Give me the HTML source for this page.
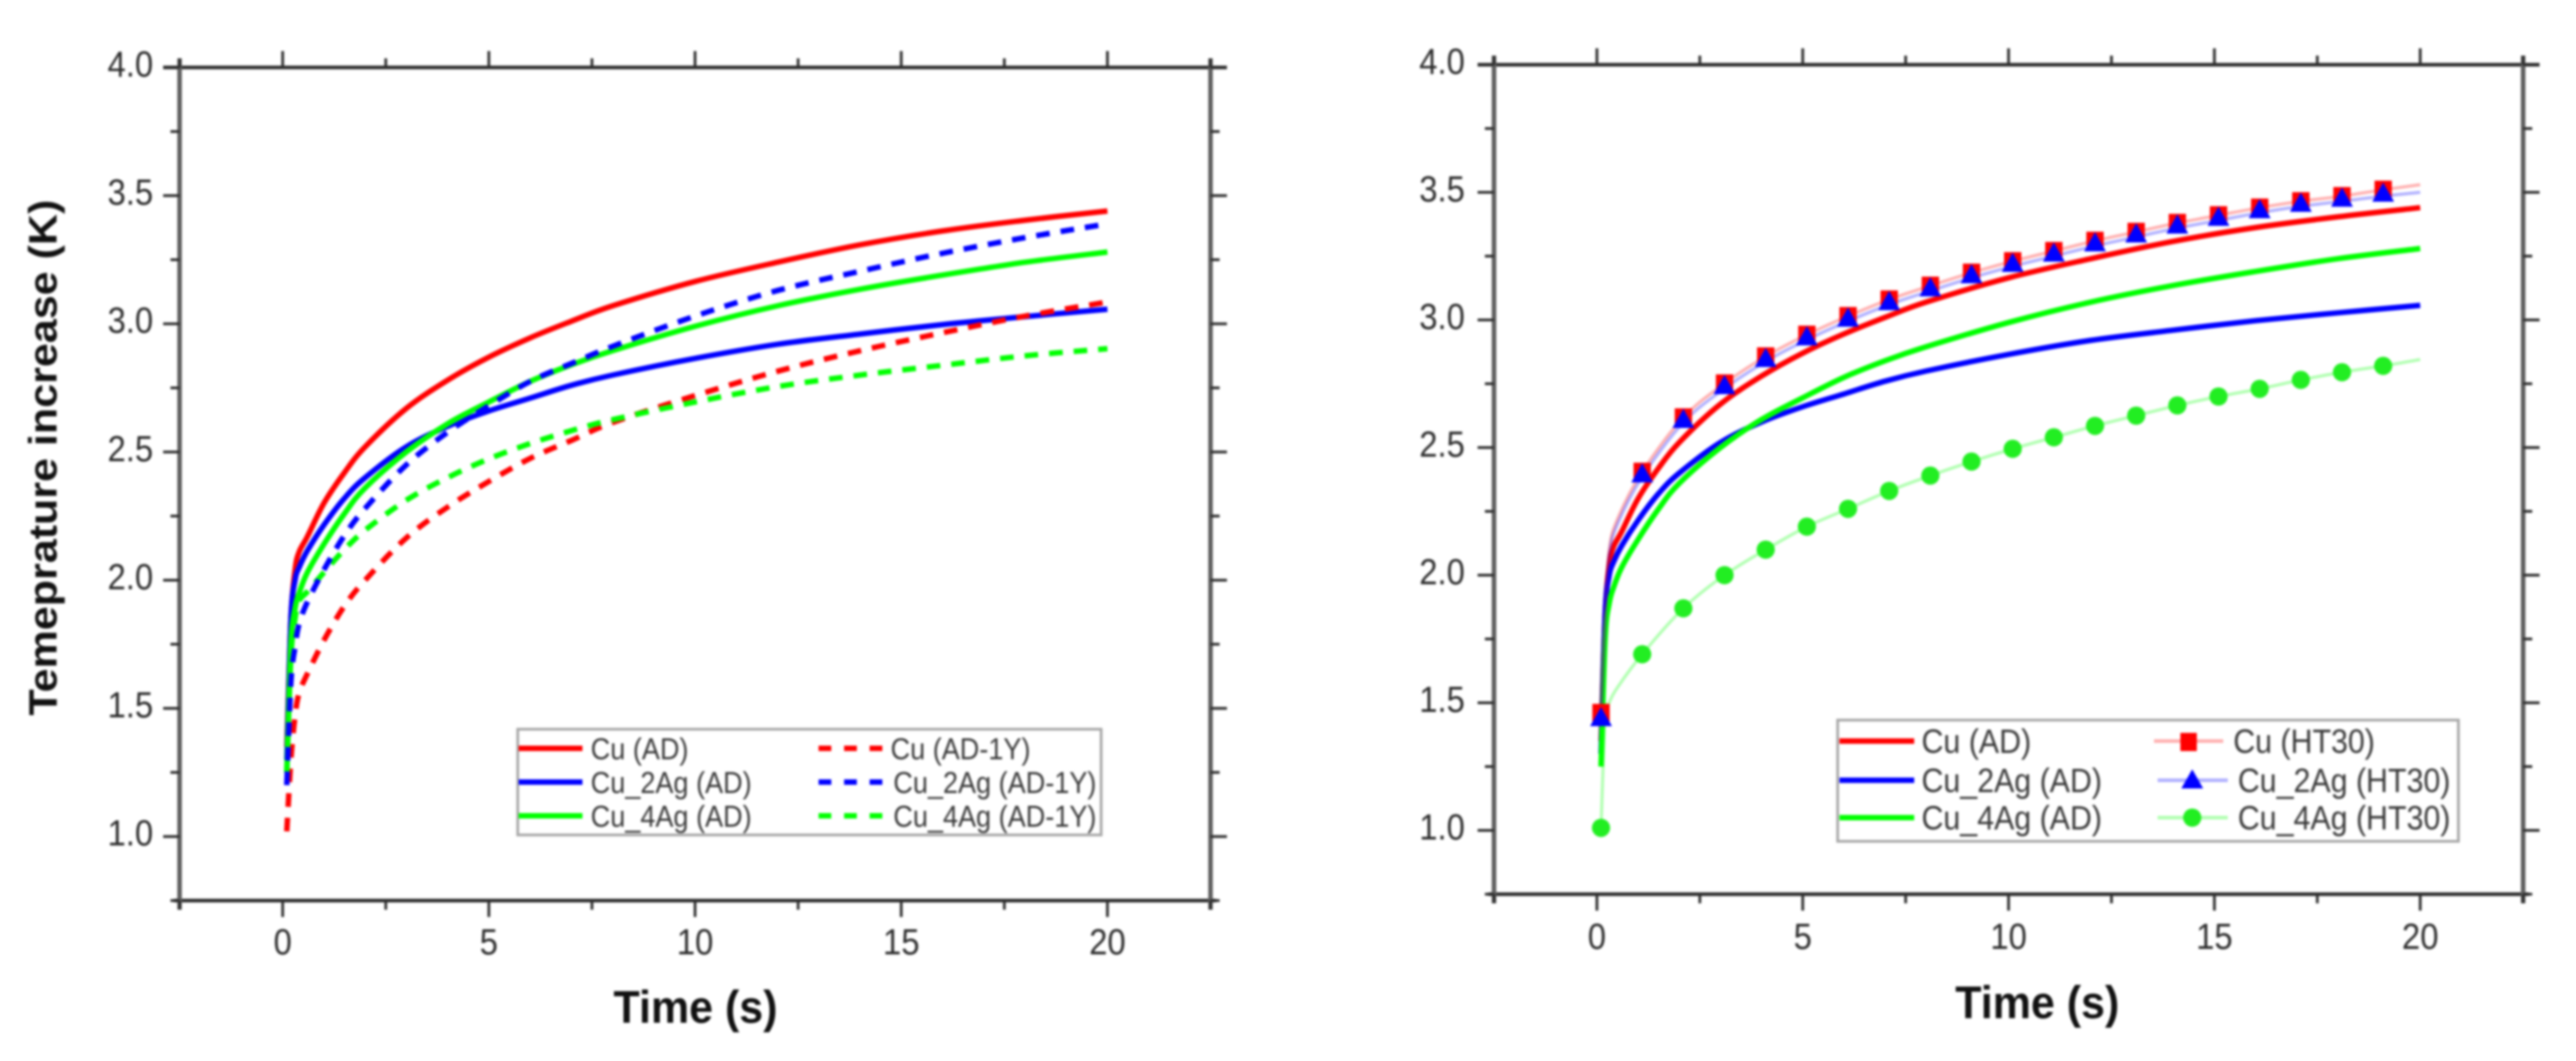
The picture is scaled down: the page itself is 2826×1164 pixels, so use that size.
<!DOCTYPE html>
<html lang="en">
<head>
<meta charset="utf-8">
<title>Temperature increase vs time</title>
<style>
  html, body { margin: 0; padding: 0; background: #fff; }
  body { width: 2826px; height: 1164px; overflow: hidden; }
  #figure { display: block; filter: blur(1.2px); }
  text { font-family: "Liberation Sans", sans-serif; }
  .tick-label { font-size: 40px; fill: #2c2c2c; }
  .axis-title { font-size: 50px; font-weight: bold; fill: #111; }
  .y-title { font-size: 44px; font-weight: bold; fill: #111; }
  .leg-l { font-size: 33px; fill: #3a3a3a; }
  .leg-r { font-size: 37px; fill: #3a3a3a; }
</style>
</head>
<body>
<svg id="figure" xmlns="http://www.w3.org/2000/svg" width="2826" height="1164" viewBox="0 0 2826 1164">
  <rect width="2826" height="1164" fill="#fff"/>

  <g id="panel-left">
    <g id="left-marks"></g>
    <g id="left-axes"></g>
    <text class="axis-title" x="763" y="1122" text-anchor="middle" textLength="180" lengthAdjust="spacingAndGlyphs">Time (s)</text>
    <text class="y-title" transform="translate(62,502) rotate(-90)" text-anchor="middle" textLength="566" lengthAdjust="spacingAndGlyphs">Temeprature increase (K)</text>
    <g>
      <rect x="568" y="800" width="640" height="116" fill="#fff" stroke="#a8a8a8" stroke-width="3"/>
      <g>
        <line x1="569" x2="639" y1="821" y2="821" stroke="#f00" stroke-width="6"/>
        <text class="leg-l" x="648" y="833">Cu (AD)</text>
      </g>
      <g>
        <line x1="569" x2="639" y1="858" y2="858" stroke="#00f" stroke-width="6"/>
        <text class="leg-l" x="648" y="870">Cu_2Ag (AD)</text>
      </g>
      <g>
        <line x1="569" x2="639" y1="895" y2="895" stroke="#0f0" stroke-width="6"/>
        <text class="leg-l" x="648" y="907">Cu_4Ag (AD)</text>
      </g>
      <g>
        <line x1="898" x2="970" y1="821" y2="821" stroke="#f00" stroke-width="6" stroke-dasharray="14 14"/>
        <text class="leg-l" x="977" y="833">Cu (AD-1Y)</text>
      </g>
      <g>
        <line x1="898" x2="972" y1="858" y2="858" stroke="#00f" stroke-width="6" stroke-dasharray="14 14"/>
        <text class="leg-l" x="980" y="870">Cu_2Ag (AD-1Y)</text>
      </g>
      <g>
        <line x1="898" x2="972" y1="895" y2="895" stroke="#0f0" stroke-width="6" stroke-dasharray="14 14"/>
        <text class="leg-l" x="980" y="907">Cu_4Ag (AD-1Y)</text>
      </g>
    </g>
  </g>

  <g id="panel-right">
    <g id="right-marks"></g>
    <g id="right-axes"></g>
    <text class="axis-title" x="2235" y="1117" text-anchor="middle" textLength="180" lengthAdjust="spacingAndGlyphs">Time (s)</text>
    <g>
      <rect x="2016" y="790" width="681" height="133" fill="#fff" stroke="#a8a8a8" stroke-width="3"/>
      <g>
        <line x1="2018" x2="2100" y1="813" y2="813" stroke="#f00" stroke-width="6"/>
        <text class="leg-r" x="2108" y="826">Cu (AD)</text>
      </g>
      <g>
        <line x1="2018" x2="2100" y1="856" y2="856" stroke="#00f" stroke-width="6"/>
        <text class="leg-r" x="2108" y="869">Cu_2Ag (AD)</text>
      </g>
      <g>
        <line x1="2018" x2="2100" y1="897" y2="897" stroke="#0f0" stroke-width="6"/>
        <text class="leg-r" x="2108" y="910">Cu_4Ag (AD)</text>
      </g>
      <g>
        <line x1="2363" x2="2439" y1="813" y2="813" stroke="#f00" stroke-width="4" opacity="0.3"/>
        <rect x="2392" y="804" width="18" height="20" fill="#f00"/>
        <text class="leg-r" x="2450" y="826">Cu (HT30)</text>
      </g>
      <g>
        <line x1="2367" x2="2444" y1="856" y2="856" stroke="#00f" stroke-width="4" opacity="0.3"/>
        <polygon points="2405,844 2417,865 2393,865" fill="#00f"/>
        <text class="leg-r" x="2455" y="869">Cu_2Ag (HT30)</text>
      </g>
      <g>
        <line x1="2367" x2="2444" y1="897" y2="897" stroke="#0f0" stroke-width="4" opacity="0.3"/>
        <circle cx="2405" cy="897" r="10" fill="#22ee22"/>
        <text class="leg-r" x="2455" y="910">Cu_4Ag (HT30)</text>
      </g>
    </g>
  </g>
</svg>

<script>
// ---- tick labels ----
const xTickLabels = [0, 5, 10, 15, 20];
const xMinorTicks = [-2.5, 2.5, 7.5, 12.5, 17.5, 22.5];
const yTickLabels = ["1.0", "1.5", "2.0", "2.5", "3.0", "3.5", "4.0"];
const yMinorTicks = [0.75, 1.25, 1.75, 2.25, 2.75, 3.25, 3.75];

// ---- sample times of the as-deposited curves (s) ----
const adTimes = [0.1, 0.2, 0.3, 0.4, 0.6, 1, 1.5, 2, 3, 4, 5, 6, 7, 8, 10, 12, 14, 16, 18, 20];

// ---- temperature increase (K) ----
const cuAD      = [1.35, 1.85, 2.04, 2.11, 2.17, 2.30, 2.42, 2.52, 2.67, 2.78, 2.87, 2.945, 3.01, 3.07, 3.165, 3.24, 3.308, 3.362, 3.404, 3.44];
const cu2AgAD   = [1.30, 1.85, 2.00, 2.05, 2.115, 2.215, 2.32, 2.40, 2.52, 2.60, 2.66, 2.71, 2.76, 2.80, 2.865, 2.92, 2.96, 2.997, 3.028, 3.057];
const cu4AgAD   = [1.25, 1.75, 1.89, 1.95, 2.03, 2.14, 2.26, 2.36, 2.50, 2.61, 2.695, 2.775, 2.84, 2.895, 2.99, 3.07, 3.135, 3.19, 3.24, 3.28];
const cuAD1Y    = [1.02, 1.30, 1.47, 1.56, 1.635, 1.765, 1.90, 2.00, 2.165, 2.285, 2.385, 2.475, 2.545, 2.615, 2.72, 2.815, 2.895, 2.965, 3.03, 3.085];
const cu2AgAD1Y = [1.20, 1.60, 1.74, 1.83, 1.915, 2.04, 2.175, 2.28, 2.45, 2.577, 2.68, 2.775, 2.845, 2.912, 3.03, 3.13, 3.205, 3.275, 3.336, 3.39];
const cu4AgAD1Y = [1.25, 1.70, 1.85, 1.92, 1.955, 2.03, 2.12, 2.195, 2.312, 2.40, 2.473, 2.533, 2.583, 2.626, 2.695, 2.755, 2.80, 2.838, 2.875, 2.903];

// ---- HT30 curves: line sample times, and the subset carrying markers ----
const ht30Times = [0.1, 0.2, 0.3, 0.5, 1.1, 2.1, 3.1, 4.1, 5.1, 6.1, 7.1, 8.1, 9.1, 10.1, 11.1, 12.1, 13.1, 14.1, 15.1, 16.1, 17.1, 18.1, 19.1, 20];
const ht30MarkerTimes = [0.1, 1.1, 2.1, 3.1, 4.1, 5.1, 6.1, 7.1, 8.1, 9.1, 10.1, 11.1, 12.1, 13.1, 14.1, 15.1, 16.1, 17.1, 18.1, 19.1];
const cuHT30    = [1.46, 1.85, 2.10, 2.22, 2.405, 2.618, 2.751, 2.857, 2.942, 3.015, 3.08, 3.134, 3.185, 3.23, 3.27, 3.31, 3.345, 3.38, 3.41, 3.44, 3.465, 3.485, 3.51, 3.53];
const cu2AgHT30 = [1.43, 1.83, 2.08, 2.20, 2.385, 2.598, 2.731, 2.837, 2.922, 2.995, 3.06, 3.114, 3.165, 3.21, 3.25, 3.29, 3.325, 3.36, 3.39, 3.42, 3.445, 3.465, 3.485, 3.50];
const cu4AgHT30 = [1.01, 1.44, 1.50, 1.56, 1.69, 1.87, 2.00, 2.10, 2.19, 2.26, 2.33, 2.39, 2.445, 2.495, 2.54, 2.585, 2.625, 2.665, 2.70, 2.73, 2.765, 2.795, 2.82, 2.845];

const NS = 'http://www.w3.org/2000/svg';
function make(tag, attrs, parent) {
  const el = document.createElementNS(NS, tag);
  for (const k in attrs) el.setAttribute(k, attrs[k]);
  parent.appendChild(el);
  return el;
}

function makeScales(g) {
  return {
    x: v => g.left + (v + 2.5) / 25 * (g.right - g.left),
    y: v => g.bottom - (v - 0.75) / 3.25 * (g.bottom - g.top)
  };
}

function curvePath(points) {
  let d = 'M' + points[0][0].toFixed(1) + ' ' + points[0][1].toFixed(1);
  for (let i = 0; i < points.length - 1; i++) {
    const p0 = points[Math.max(0, i - 1)], p1 = points[i], p2 = points[i + 1], p3 = points[Math.min(points.length - 1, i + 2)];
    const c1x = p1[0] + (p2[0] - p0[0]) / 6, c1y = p1[1] + (p2[1] - p0[1]) / 6;
    const c2x = p2[0] - (p3[0] - p1[0]) / 6, c2y = p2[1] - (p3[1] - p1[1]) / 6;
    d += 'C' + c1x.toFixed(1) + ' ' + c1y.toFixed(1) + ' ' + c2x.toFixed(1) + ' ' + c2y.toFixed(1) + ' ' + p2[0].toFixed(1) + ' ' + p2[1].toFixed(1);
  }
  return d;
}

function drawCurve(parent, s, times, values, name, style) {
  const pts = times.map((t, i) => [s.x(t), s.y(values[i])]);
  const el = make('path', Object.assign({ d: curvePath(pts), fill: 'none', 'stroke-linejoin': 'round' }, style), parent);
  
  
}

function drawAxes(parent, s, g) {
  const dark = '#2e2e2e', grey = '#5f5f5f';
  const frame = [
    [g.left - 18, g.top, g.right + 18, g.top, dark, 4],
    [g.left - 6, g.bottom, g.right + 6, g.bottom, dark, 4],
    [g.left, g.top - 10, g.left, g.bottom + 10, grey, 5],
    [g.right, g.top - 10, g.right, g.bottom + 10, grey, 5]
  ];
  frame.forEach(f => {
    const axisLine = make('line', { x1: f[0], y1: f[1], x2: f[2], y2: f[3], stroke: f[4], 'stroke-width': f[5] }, parent);
    
    
  });
  xTickLabels.forEach(v => {
    const px = s.x(v);
    make('line', { x1: px, x2: px, y1: g.bottom, y2: g.bottom + 18, stroke: dark, 'stroke-width': 3 }, parent);
    make('line', { x1: px, x2: px, y1: g.top, y2: g.top - 18, stroke: dark, 'stroke-width': 3 }, parent);
    const label = make('text', { x: px, y: g.xLabelY, 'text-anchor': 'middle', class: 'tick-label' }, parent);
    label.textContent = String(v);
    
    
  });
  xMinorTicks.forEach(v => {
    const px = s.x(v);
    make('line', { x1: px, x2: px, y1: g.bottom, y2: g.bottom + 10, stroke: dark, 'stroke-width': 3 }, parent);
    make('line', { x1: px, x2: px, y1: g.top, y2: g.top - 10, stroke: dark, 'stroke-width': 3 }, parent);
  });
  yTickLabels.forEach(t => {
    const py = s.y(parseFloat(t));
    make('line', { x1: g.left, x2: g.left - 18, y1: py, y2: py, stroke: dark, 'stroke-width': 3 }, parent);
    make('line', { x1: g.right, x2: g.right + 18, y1: py, y2: py, stroke: dark, 'stroke-width': 3 }, parent);
    const label = make('text', { x: g.yLabelX, y: py + 10, 'text-anchor': 'end', class: 'tick-label' }, parent);
    label.textContent = t;
    
    
  });
  yMinorTicks.forEach(v => {
    const py = s.y(v);
    make('line', { x1: g.left, x2: g.left - 10, y1: py, y2: py, stroke: dark, 'stroke-width': 3 }, parent);
    make('line', { x1: g.right, x2: g.right + 10, y1: py, y2: py, stroke: dark, 'stroke-width': 3 }, parent);
  });
}

// ---- left panel ----
const leftGeom = { left: 197, right: 1328, top: 74, bottom: 988, xLabelY: 1047, yLabelX: 168 };
const leftScale = makeScales(leftGeom);
const leftMarks = document.getElementById('left-marks');
const solid = c => ({ stroke: c, 'stroke-width': 6 });
const dashed = c => ({ stroke: c, 'stroke-width': 6, 'stroke-dasharray': '15 12' });
drawCurve(leftMarks, leftScale, adTimes, cuAD, 'curve-cu-ad', solid('#f00'));
drawCurve(leftMarks, leftScale, adTimes, cu2AgAD, 'curve-cu-2ag-ad', solid('#00f'));
drawCurve(leftMarks, leftScale, adTimes, cuAD1Y, 'curve-cu-ad-1y', dashed('#f00'));
drawCurve(leftMarks, leftScale, adTimes, cu4AgAD, 'curve-cu-4ag-ad', solid('#0f0'));
drawCurve(leftMarks, leftScale, adTimes, cu4AgAD1Y, 'curve-cu-4ag-ad-1y', dashed('#0f0'));
drawCurve(leftMarks, leftScale, adTimes, cu2AgAD1Y, 'curve-cu-2ag-ad-1y', dashed('#00f'));
drawAxes(document.getElementById('left-axes'), leftScale, leftGeom);

// ---- right panel ----
const rightGeom = { left: 1639, right: 2768, top: 71, bottom: 981, xLabelY: 1041, yLabelX: 1607 };
const rightScale = makeScales(rightGeom);
const rightMarks = document.getElementById('right-marks');
const thin = c => ({ stroke: c, 'stroke-width': 3.5, 'stroke-opacity': 0.3 });
drawCurve(rightMarks, rightScale, adTimes, cuAD, 'curve-cu-ad', solid('#f00'));
drawCurve(rightMarks, rightScale, adTimes, cu2AgAD, 'curve-cu-2ag-ad', solid('#00f'));
drawCurve(rightMarks, rightScale, adTimes, cu4AgAD, 'curve-cu-4ag-ad', solid('#0f0'));
drawCurve(rightMarks, rightScale, ht30Times, cu4AgHT30, 'curve-cu-4ag-ht30', thin('#0f0'));
drawCurve(rightMarks, rightScale, ht30Times, cuHT30, 'curve-cu-ht30', thin('#f00'));
drawCurve(rightMarks, rightScale, ht30Times, cu2AgHT30, 'curve-cu-2ag-ht30', thin('#00f'));

ht30MarkerTimes.forEach(t => {
  const i = ht30Times.indexOf(t);
  const px = rightScale.x(t);
  const circle = make('circle', { cx: px, cy: rightScale.y(cu4AgHT30[i]), r: 10, fill: '#22ee22' }, rightMarks);
  
  
  const square = make('rect', { x: px - 9.5, y: rightScale.y(cuHT30[i]) - 10, width: 19, height: 21, fill: '#f00' }, rightMarks);
  
  
});
ht30MarkerTimes.forEach(t => {
  const i = ht30Times.indexOf(t);
  const px = rightScale.x(t), py = rightScale.y(cu2AgHT30[i]);
  const tri = make('polygon', { points: (px) + ',' + (py - 15) + ' ' + (px + 12) + ',' + (py + 6) + ' ' + (px - 12) + ',' + (py + 6), fill: '#00f' }, rightMarks);
  
  
});
drawAxes(document.getElementById('right-axes'), rightScale, rightGeom);

// the reference type is vertically stretched: condense tick and legend text horizontally
document.querySelectorAll('.tick-label, .leg-l, .leg-r').forEach(t => {
  const natural = t.getComputedTextLength();
  t.setAttribute('textLength', (natural * 0.9).toFixed(1));
  t.setAttribute('lengthAdjust', 'spacingAndGlyphs');
});
</script>
</body>
</html>
